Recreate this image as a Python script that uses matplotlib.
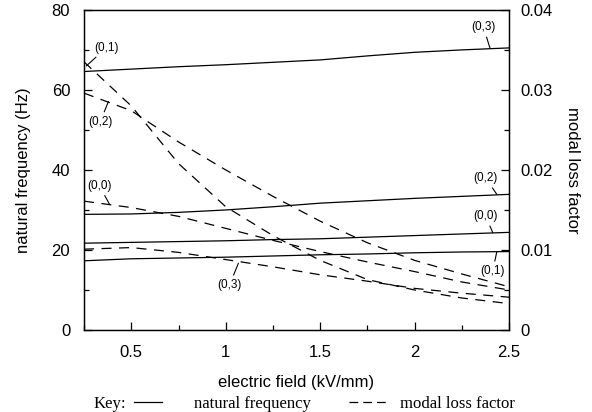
import matplotlib
matplotlib.use("Agg")
import matplotlib.pyplot as plt
from matplotlib.lines import Line2D
from matplotlib.ticker import MultipleLocator

plt.rcParams["font.family"] = ["Liberation Sans", "DejaVu Sans"]

# ==================== data ====================
field = [0.25, 0.5, 0.75, 1.0, 1.25, 1.5, 1.75, 2.0, 2.25, 2.5]   # kV/mm

# natural frequency (Hz)
freq_03 = [64.6, 65.2, 65.8, 66.3, 66.9, 67.5, 68.5, 69.4, 70.0, 70.5]
freq_02 = [28.9, 29.0, 29.4, 30.0, 30.8, 31.7, 32.3, 32.9, 33.4, 33.9]
freq_00 = [21.7, 21.9, 22.1, 22.3, 22.6, 22.8, 23.2, 23.6, 24.0, 24.4]
freq_01 = [17.3, 17.8, 18.0, 18.2, 18.5, 18.8, 19.0, 19.3, 19.5, 19.6]

# modal loss factor
loss_01 = [0.0335, 0.0280, 0.0208, 0.0154, 0.0118, 0.0087, 0.0063, 0.0050, 0.0040, 0.0033]
loss_02 = [0.0296, 0.0274, 0.0235, 0.0200, 0.0167, 0.0136, 0.0109, 0.0087, 0.0070, 0.0054]
loss_00 = [0.0161, 0.0153, 0.0142, 0.0127, 0.0112, 0.0098, 0.0085, 0.0073, 0.0060, 0.0050]
loss_03 = [0.0101, 0.0103, 0.0097, 0.0088, 0.0079, 0.0069, 0.0061, 0.0052, 0.0046, 0.0041]

x_ticks = [0.5, 1, 1.5, 2, 2.5]
x_tick_labels = ["0.5", "1", "1.5", "2", "2.5"]

# ==================== figure ====================
fig = plt.figure(figsize=(5.92, 4.12), dpi=100)
ax = fig.add_axes([0.142, 0.199, 0.718, 0.777])
ax2 = ax.twinx()

lw = 0.9
for f in [freq_03, freq_02, freq_00, freq_01]:
    ax.plot(field, f, color="black", lw=lw)
for l in [loss_01, loss_02, loss_00, loss_03]:
    ax2.plot(field, l, color="black", lw=lw, dashes=(8, 6))

ax.set_xlim(0.25, 2.5)
ax.set_ylim(0, 80)
ax2.set_ylim(0, 0.04)

ax.set_xticks(x_ticks)
ax.set_xticklabels(x_tick_labels)
ax.xaxis.set_minor_locator(MultipleLocator(0.25))
ax.yaxis.set_major_locator(MultipleLocator(20))
ax.yaxis.set_minor_locator(MultipleLocator(10))
ax2.set_yticks([0, 0.01, 0.02, 0.03, 0.04])
ax2.set_yticklabels(["0", "0.01", "0.02", "0.03", "0.04"])
ax2.yaxis.set_minor_locator(MultipleLocator(0.005))

ax.tick_params(which="both", direction="in", top=False, right=False, labelsize=12, width=0.9)
ax.tick_params(which="major", length=6)
ax.tick_params(which="minor", length=3.5)
ax.tick_params(axis="y", pad=10)
ax.tick_params(axis="x", pad=11)
ax2.tick_params(which="both", direction="in", labelsize=12, width=0.9, pad=8)
ax2.tick_params(which="major", length=6)
ax2.tick_params(which="minor", length=3.5)

for a in (ax, ax2):
    for s in a.spines.values():
        s.set_linewidth(0.9)

ax.set_ylabel("natural frequency (Hz)", fontsize=12, labelpad=15)
ax2.set_ylabel("modal loss factor", fontsize=12, rotation=270, labelpad=20)
fig.text(0.5, 1 - 383 / 412, "electric field (kV/mm)", ha="center", va="center", fontsize=12)

# ==================== curve labels ====================
lab = dict(fontsize=8.5, ha="center", va="center",
           arrowprops=dict(arrowstyle="-", color="black", lw=0.8, shrinkA=1, shrinkB=0))
# left side (loss factor curves)
ax.annotate("(0,1)", xy=(0.262, 66.0), xytext=(0.37, 70.6), **lab)
ax.annotate("(0,2)", xy=(0.379, 57.1), xytext=(0.335, 52.0), **lab)
ax.annotate("(0,0)", xy=(0.384, 31.5), xytext=(0.33, 36.1), **lab)
ax.annotate("(0,3)", xy=(1.067, 16.7), xytext=(1.02, 11.2), **lab)
# right side (natural frequency curves)
ax.annotate("(0,3)", xy=(2.399, 70.4), xytext=(2.364, 75.7), **lab)
ax.annotate("(0,2)", xy=(2.435, 33.9), xytext=(2.375, 38.0), **lab)
ax.annotate("(0,0)", xy=(2.414, 24.3), xytext=(2.375, 28.5), **lab)
ax.annotate("(0,1)", xy=(2.435, 19.6), xytext=(2.413, 14.7), **lab)

# ==================== key ====================
ky = 1 - 404 / 412
serif = ["Liberation Serif", "DejaVu Serif"]
fig.text(94 / 592, ky, "Key:", family=serif, fontsize=12, va="center", ha="left")
fig.add_artist(Line2D([134 / 592, 162 / 592], [ky + 0.006, ky + 0.006], color="black", lw=0.9))
fig.text(194 / 592, ky, "natural frequency", family=serif, fontsize=12, va="center", ha="left")
fig.add_artist(Line2D([349 / 592, 390 / 592], [ky + 0.006, ky + 0.006], color="black", lw=0.9,
                      dashes=(7, 4)))
fig.text(400 / 592, ky, "modal loss factor", family=serif, fontsize=12, va="center", ha="left")

fig.savefig("out.png", dpi=100)
